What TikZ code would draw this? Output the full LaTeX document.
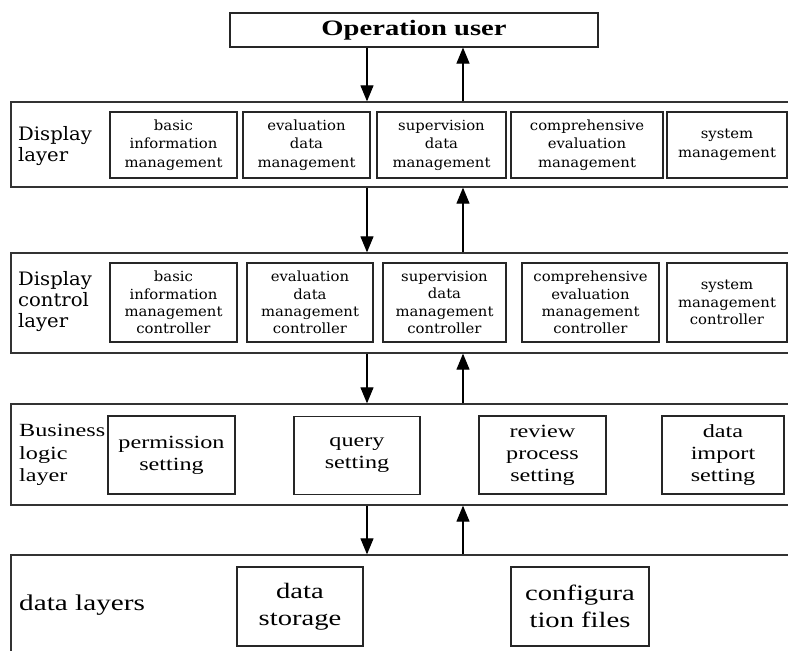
\documentclass[tikz,border=0pt]{standalone}
\usepackage{fontspec}
\setmainfont{Liberation Serif}
\newfontfamily\tnr[FakeStretch=1.3]{Liberation Serif}
\newfontfamily\dvs[FakeStretch=1.06]{DejaVu Serif}
\usetikzlibrary{arrows.meta}
\begin{document}
\begin{tikzpicture}[x=1pt,y=-1pt,
  box/.style={draw=black!85, line width=1.1pt, inner sep=0pt, align=center},
  layer/.style={draw=black!80, line width=1.3pt, inner sep=0pt},
  arr/.style={line width=1.1pt, -{Triangle[width=13pt,length=16pt]}},
  dtxt/.style={font=\dvs\fontsize{14}{18.5}\selectfont},
  ctxt/.style={font=\dvs\fontsize{14}{17.3}\selectfont},
  dlab/.style={font=\dvs\fontsize{18.5}{21}\selectfont, align=left, anchor=west, inner sep=0pt},
  btxt/.style={font=\tnr\fontsize{18.6}{22}\selectfont},
  blab/.style={font=\tnr\fontsize{18.6}{22.5}\selectfont, align=left, anchor=west, inner sep=0pt},
  stxt/.style={font=\tnr\fontsize{22}{27}\selectfont},
]
\fill[white] (0,0) rectangle (788,651);
\useasboundingbox (0,0) rectangle (788,651);
\clip (0,0) rectangle (788,651);

\coordinate (ax) at (367,0);
\coordinate (bx) at (463,0);

% top
\node[box, minimum width=368pt, minimum height=34pt, font=\tnr\bfseries\fontsize{22}{26}\selectfont] (op) at (414,30) {Operation user};

% display layer
\node[layer, minimum width=789pt, minimum height=85pt] (L1) at (405.5,144.5) {};
\node[dlab] (l1) at (18,146) {Display\\layer};
\node[box, dtxt, minimum width=127pt, minimum height=66pt] (d1) at (173.5,145) {basic\\information\\management};
\node[box, dtxt, minimum width=127pt, minimum height=66pt] (d2) at (306.5,145) {evaluation\\data\\management};
\node[box, dtxt, minimum width=129pt, minimum height=66pt] (d3) at (441.5,145) {supervision\\data\\management};
\node[box, dtxt, minimum width=152pt, minimum height=66pt] (d4) at (587,145) {comprehensive\\evaluation\\management};
\node[box, dtxt, minimum width=120pt, minimum height=66pt] (d5) at (727,145) {system\\management};

% display control layer
\node[layer, minimum width=789pt, minimum height=100pt] (L2) at (405.5,303) {};
\node[dlab] (l2) at (18,302) {Display\\control\\layer};
\node[box, ctxt, minimum width=127pt, minimum height=79pt] (c1) at (173.5,302.5) {basic\\information\\management\\controller};
\node[box, ctxt, minimum width=126pt, minimum height=79pt] (c2) at (310,302.5) {evaluation\\data\\management\\controller};
\node[box, ctxt, minimum width=123pt, minimum height=79pt] (c3) at (444.5,302.5) {supervision\\data\\management\\controller};
\node[box, ctxt, minimum width=137pt, minimum height=79pt] (c4) at (590.5,302.5) {comprehensive\\evaluation\\management\\controller};
\node[box, ctxt, minimum width=120pt, minimum height=79pt] (c5) at (727,302.5) {system\\management\\controller};

% business logic layer
\node[layer, minimum width=789pt, minimum height=101pt] (L3) at (405.5,454.5) {};
\node[blab] (l3) at (19,455) {Business\\logic\\layer};
\node[box, btxt, minimum width=127pt, minimum height=78pt] (b1) at (171.5,455) {permission\\setting};
\node[box, btxt, minimum width=126pt, minimum height=78pt] (b2) at (357,455.5) {query\\setting};
\node[box, btxt, minimum width=127pt, minimum height=78pt] (b3) at (542.5,455) {review\\process\\setting};
\node[box, btxt, minimum width=122pt, minimum height=78pt] (b4) at (723,455) {data\\import\\setting};

% data layers
\node[layer, minimum width=789pt, minimum height=120pt] (L4) at (405.5,615) {};
\node[font=\tnr\fontsize{22.5}{27}\selectfont, anchor=west, inner sep=0pt] (l4) at (19,605) {data layers};
\node[box, stxt, minimum width=126pt, minimum height=79pt] (s1) at (300,606.5) {data\\storage};
\node[box, stxt, minimum width=138pt, minimum height=79pt] (s2) at (580,606.5) {configura\\tion files};

% connectors
\draw[arr] (op.south -| ax) -- (L1.north -| ax);
\draw[arr] (L1.north -| bx) -- (op.south -| bx);
\draw[arr] (L1.south -| ax) -- (L2.north -| ax);
\draw[arr] (L2.north -| bx) -- (L1.south -| bx);
\draw[arr] (L2.south -| ax) -- (L3.north -| ax);
\draw[arr] (L3.north -| bx) -- (L2.south -| bx);
\draw[arr] (L3.south -| ax) -- (L4.north -| ax);
\draw[arr] (L4.north -| bx) -- (L3.south -| bx);
\end{tikzpicture}
\end{document}
